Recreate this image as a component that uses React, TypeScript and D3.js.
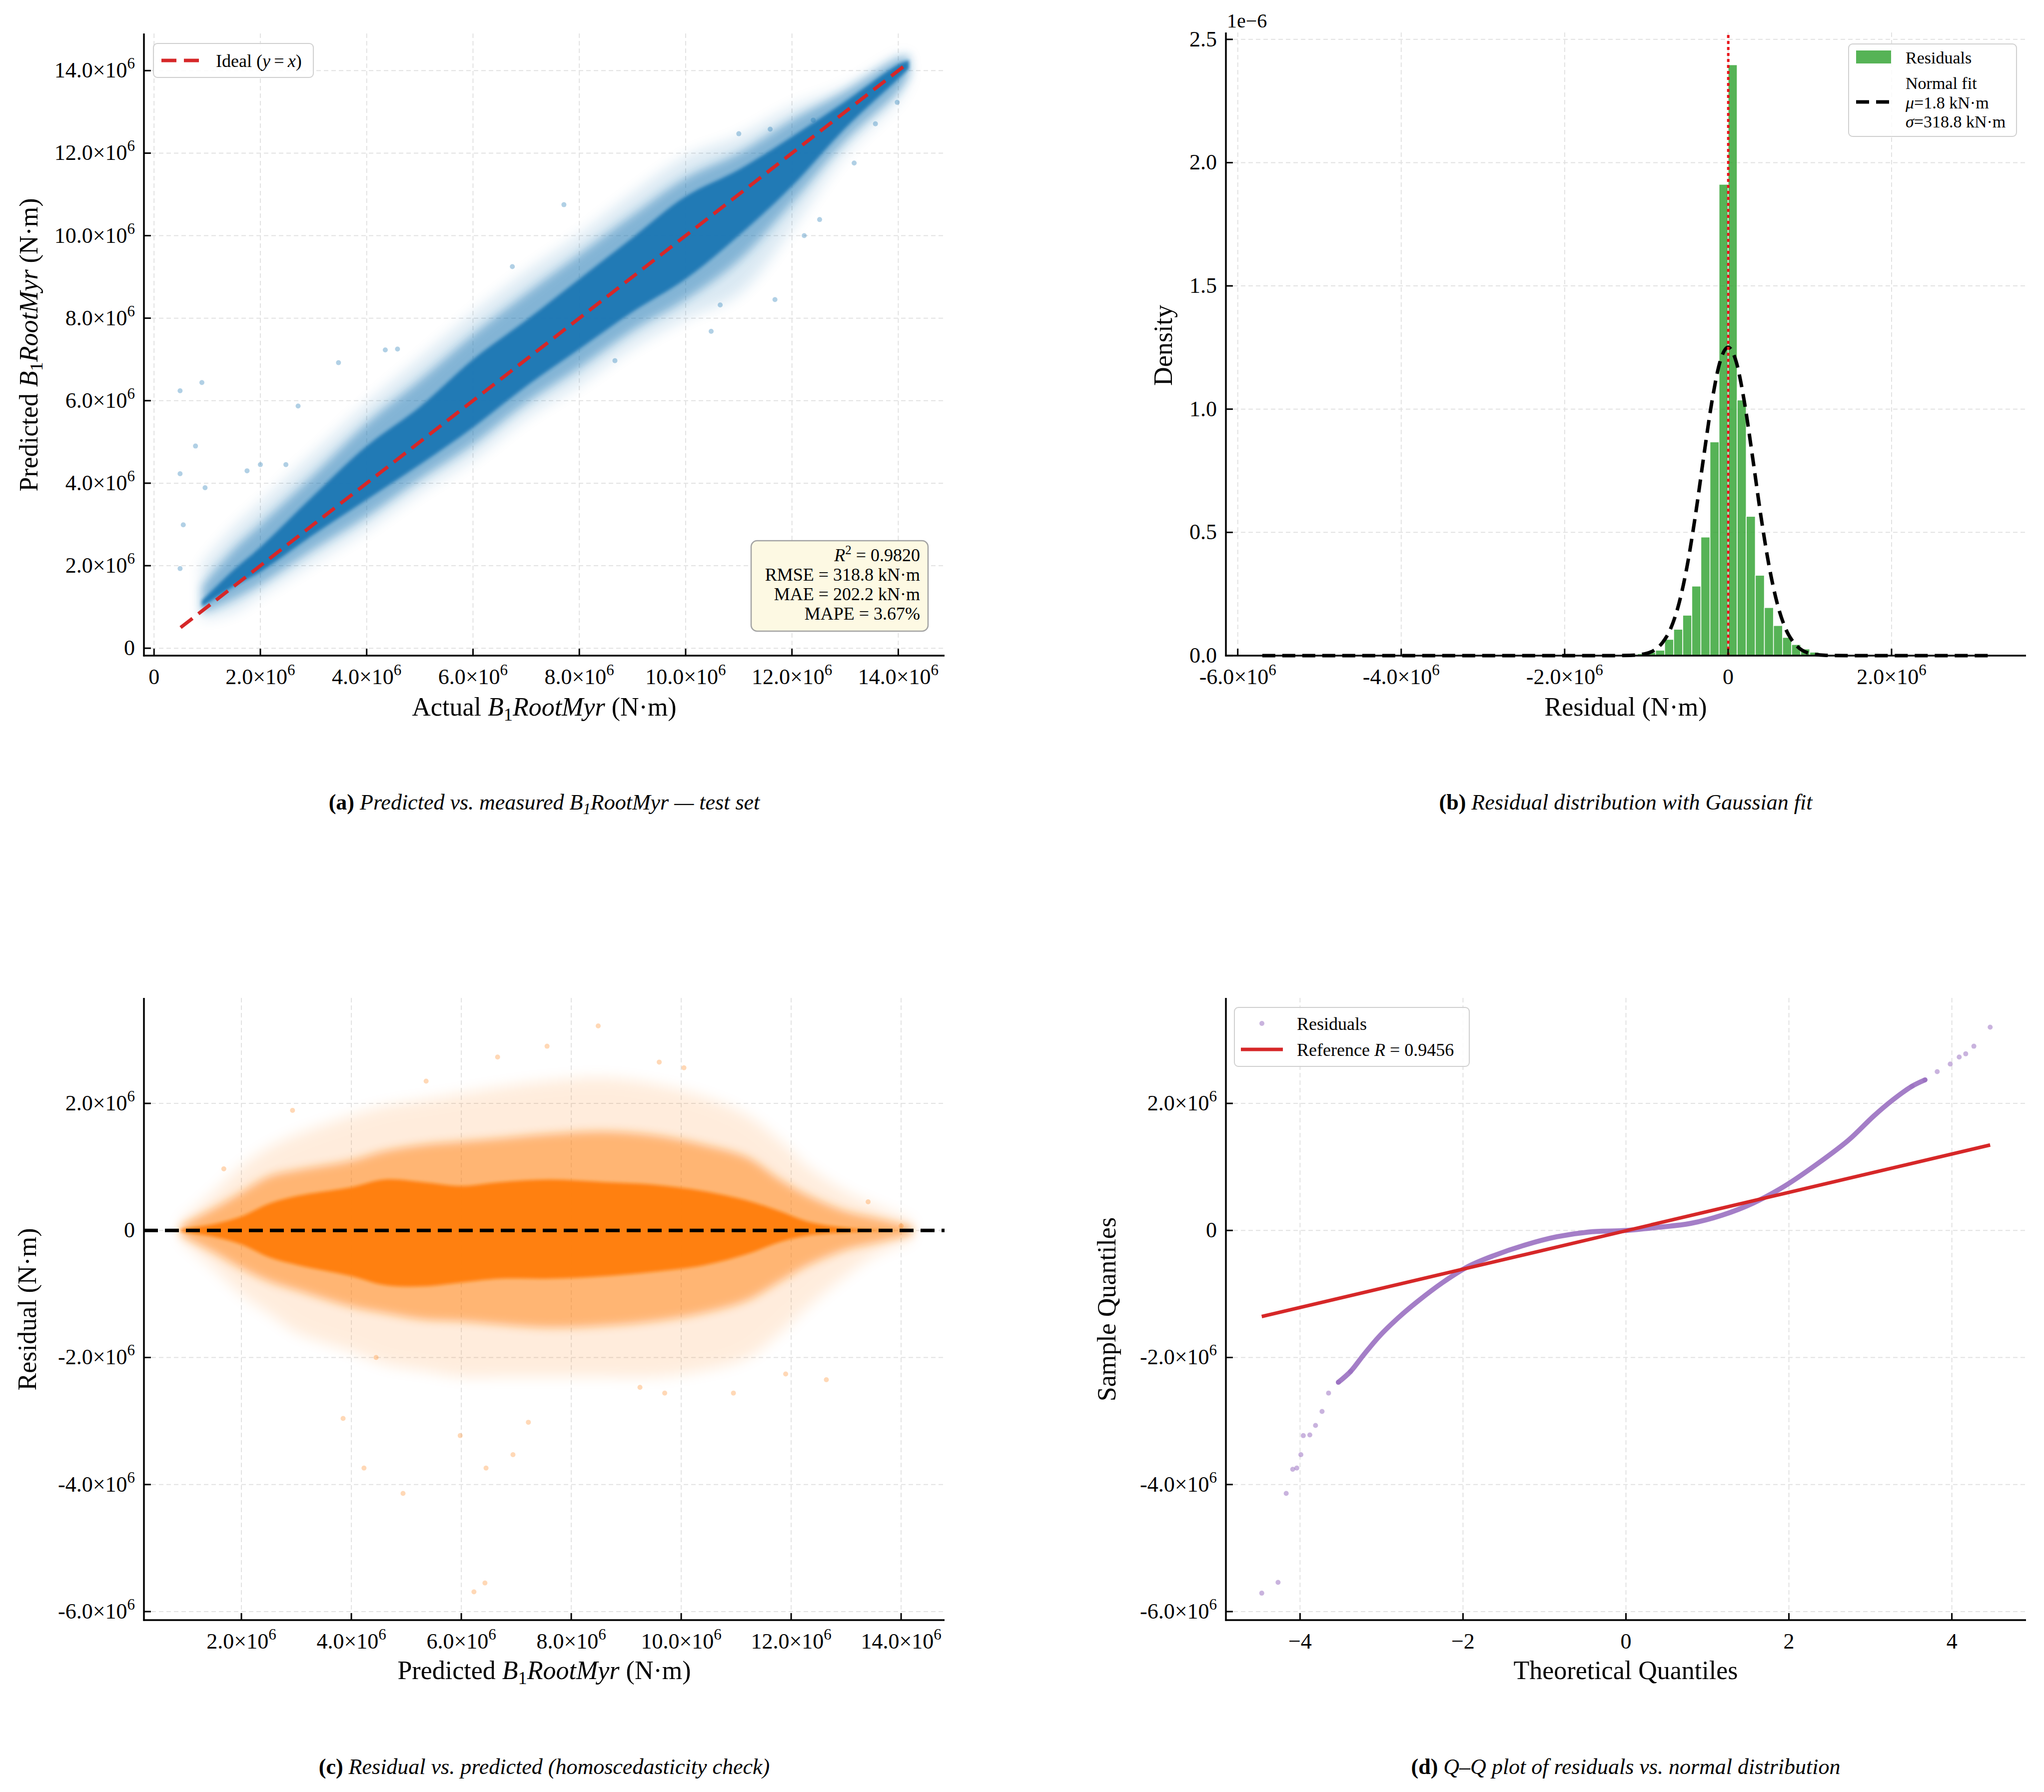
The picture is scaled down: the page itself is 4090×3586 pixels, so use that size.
import React from 'react';
import * as d3 from 'd3';

// ---------- data (values in 1e6 N·m unless noted) ----------
const actualMN = [0.9, 1.5, 2, 3, 4, 5, 6, 7, 8, 9, 10, 11, 12, 13, 14, 14.2];
const predCoreLo = [1.0, 1.5, 1.85, 2.75, 3.6, 4.45, 5.35, 6.35, 7.25, 8.15, 8.95, 10.0, 11.2, 12.6, 13.8, 14.05];
const predCoreHi = [1.15, 1.9, 2.45, 3.7, 4.9, 5.85, 7.0, 7.95, 8.95, 9.95, 10.95, 11.6, 12.4, 13.25, 14.15, 14.25];
const predMidLo = [0.85, 1.2, 1.55, 2.4, 3.2, 4.1, 4.95, 5.95, 6.8, 7.7, 8.45, 9.4, 10.8, 12.3, 13.5, 13.9];
const predMidHi = [1.5, 2.4, 3.0, 4.2, 5.45, 6.5, 7.6, 8.6, 9.55, 10.5, 11.4, 12.0, 12.8, 13.5, 14.3, 14.35];
const predOuterLo = [0.7, 0.9, 1.3, 2.1, 2.9, 3.8, 4.6, 5.6, 6.4, 7.3, 8.0, 8.6, 10.2, 12.0, 13.3, 13.8];
const predOuterHi = [2.0, 2.9, 3.5, 4.7, 5.9, 7.0, 8.1, 9.1, 10.0, 11.0, 11.9, 12.4, 13.1, 13.6, 14.35, 14.4];
const outlierActual = [0.49, 0.49, 0.55, 0.9, 0.78, 0.96, 0.49, 1.75, 2.0, 2.48, 2.71, 3.47, 4.35, 4.58, 6.74, 7.71, 8.67, 10.48, 10.65, 11.68, 11.59, 11.0, 12.4, 13.98, 13.57, 13.17, 12.52, 12.23];
const outlierPred = [6.24, 4.23, 2.99, 6.44, 4.9, 3.89, 1.93, 4.3, 4.45, 4.45, 5.87, 6.92, 7.23, 7.25, 9.25, 10.75, 6.97, 7.68, 8.32, 8.45, 12.58, 12.47, 12.8, 13.23, 12.71, 11.76, 10.39, 10.0];
const idealLine = [0.5, 14.2];
const statLines = ['= 0.9820', 'RMSE = 318.8 kN·m', 'MAE = 202.2 kN·m', 'MAPE = 3.67%'];

// panel (b): histogram (density in 1e-6) and normal fit
const histLeft = [-1.332, -1.221, -1.11, -0.999, -0.888, -0.777, -0.666, -0.555, -0.444, -0.333, -0.222, -0.111, 0, 0.111, 0.222, 0.333, 0.444, 0.555, 0.666, 0.777, 0.888, 0.999, 1.11, 1.221];
const histDensity = [0.003, 0.005, 0.008, 0.014, 0.022, 0.066, 0.107, 0.164, 0.282, 0.481, 0.867, 1.912, 2.397, 1.037, 0.565, 0.326, 0.195, 0.122, 0.074, 0.045, 0.027, 0.014, 0.007, 0.004];
const histWidth = 0.111;
const fitX = [-5.7, -2.0, -1.5, -1.2, -1.0, -0.9, -0.8, -0.7, -0.6, -0.5, -0.4, -0.3, -0.2, -0.1, 0, 0.1, 0.2, 0.3, 0.4, 0.5, 0.6, 0.7, 0.8, 0.9, 1.0, 1.2, 1.5, 2.0, 3.2];
const fitY = [0, 0, 0, 0.001, 0.009, 0.023, 0.054, 0.112, 0.213, 0.366, 0.569, 0.804, 1.027, 1.191, 1.251, 1.191, 1.027, 0.804, 0.569, 0.366, 0.213, 0.112, 0.054, 0.023, 0.009, 0.001, 0, 0, 0];
const residMean = 0.0018;

// panel (c): residual cloud envelopes vs predicted
const predMN = [0.9, 1.5, 2, 2.5, 3, 4, 4.6, 5.3, 6, 6.7, 7.6, 8.6, 9.5, 10.4, 11.2, 11.8, 12.3, 13, 13.5, 14.2];
const resCoreHi = [0.02, 0.1, 0.22, 0.42, 0.54, 0.68, 0.8, 0.76, 0.7, 0.76, 0.8, 0.76, 0.72, 0.62, 0.47, 0.3, 0.14, 0.04, 0.01, 0];
const resCoreLo = [-0.02, -0.1, -0.22, -0.42, -0.54, -0.72, -0.86, -0.88, -0.82, -0.76, -0.76, -0.72, -0.65, -0.55, -0.37, -0.18, -0.08, -0.03, -0.01, 0];
const resMidHi = [0.08, 0.35, 0.6, 0.85, 0.95, 1.1, 1.25, 1.35, 1.4, 1.45, 1.52, 1.56, 1.5, 1.35, 1.15, 0.8, 0.55, 0.3, 0.2, 0.06];
const resMidLo = [-0.08, -0.35, -0.6, -0.8, -0.94, -1.2, -1.3, -1.4, -1.43, -1.48, -1.53, -1.5, -1.43, -1.3, -1.1, -0.8, -0.55, -0.3, -0.2, -0.06];
const resOuterHi = [0.15, 0.6, 1.0, 1.3, 1.5, 1.8, 1.95, 2.05, 2.15, 2.25, 2.35, 2.4, 2.3, 2.1, 1.8, 1.4, 1.0, 0.6, 0.4, 0.15];
const resOuterLo = [-0.15, -0.6, -1.0, -1.3, -1.6, -1.9, -2.1, -2.2, -2.3, -2.3, -2.3, -2.3, -2.3, -2.2, -2.0, -1.6, -1.2, -0.7, -0.4, -0.15];
const resOutX = [8.49, 5.98, 4.94, 6.43, 6.23, 4.23, 3.85, 6.94, 7.22, 6.45, 7.56, 6.66, 9.6, 10.05, 2.93, 1.68, 5.36, 13.4, 14.0, 12.64, 11.9, 10.95, 9.7, 9.25, 4.45];
const resOutY = [3.22, -3.23, -4.14, -5.55, -5.69, -3.74, -2.96, -3.53, -3.02, -3.74, 2.9, 2.73, 2.65, 2.56, 1.89, 0.97, 2.35, 0.45, 0.07, -2.35, -2.26, -2.56, -2.56, -2.47, -2.0];

// panel (d): Q-Q points
const qqTheo = [-4.47, -4.27, -4.17, -4.09, -4.04, -3.99, -3.96, -3.88, -3.81, -3.73, -3.65, -3.53, -3.38, -3.22, -3.03, -2.79, -2.56, -2.25, -1.94, -1.63, -1.24, -0.85, -0.46, 0, 0.4, 0.79, 1.18, 1.56, 1.95, 2.34, 2.73, 3.04, 3.28, 3.51, 3.67, 3.82, 3.98, 4.09, 4.17, 4.27, 4.47];
const qqSample = [-5.71, -5.54, -4.14, -3.76, -3.74, -3.53, -3.23, -3.22, -3.07, -2.85, -2.56, -2.39, -2.22, -1.96, -1.67, -1.37, -1.12, -0.82, -0.57, -0.4, -0.23, -0.1, -0.025, 0, 0.05, 0.11, 0.24, 0.43, 0.7, 1.04, 1.42, 1.8, 2.06, 2.27, 2.37, 2.5, 2.62, 2.73, 2.78, 2.9, 3.2];
const refTheo = [-4.47, 4.47];
const refSample = [-1.355, 1.345];

const ticksA = [0, 2, 4, 6, 8, 10, 12, 14];
const ticksBx = [-6, -4, -2, 0, 2];
const ticksBy = [0, 0.5, 1.0, 1.5, 2.0, 2.5];
const ticksCx = [2, 4, 6, 8, 10, 12, 14];
const ticksCy = [-6, -4, -2, 0, 2];
const ticksDx = [-4, -2, 0, 2, 4];

// ---------- styling ----------
const FONT = '"Liberation Serif", "Times New Roman", serif';
const TICK_FS = 44;
const LABEL_FS = 52;
const LEG_FS = 36;
const CAP_FS = 44;
const BLUE = '#1f77b4';
const ORANGE = '#ff7f0e';
const GREEN = '#2ca02c';
const PURPLE = '#9467bd';
const RED = '#d62728';

type Scale = d3.ScaleLinear<number, number>;

const sci = (v: number) =>
  v === 0 ? (
    '0'
  ) : (
    <>
      {(v < 0 ? '-' : '') + Math.abs(v).toFixed(1)}×10
      <tspan dy={-18} fontSize={31}>6</tspan>
    </>
  );

function Grid({ x, y, xt, yt }: { x: Scale; y: Scale; xt: number[]; yt: number[] }) {
  const [l, r] = x.range();
  const [b, t] = y.range();
  return (
    <g stroke="#e2e2e2" strokeWidth={2} strokeDasharray="9,6">
      {xt.map((v) => (
        <line key={'x' + v} x1={x(v)} x2={x(v)} y1={t} y2={b} />
      ))}
      {yt.map((v) => (
        <line key={'y' + v} x1={l} x2={r} y1={y(v)} y2={y(v)} />
      ))}
    </g>
  );
}

function Frame({
  x, y, xt, yt, xf, yf,
}: {
  x: Scale; y: Scale; xt: number[]; yt: number[];
  xf: (v: number) => any; yf: (v: number) => any;
}) {
  const [l, r] = x.range();
  const [b, t] = y.range();
  return (
    <g>
      <line x1={l} x2={l} y1={t} y2={b + 1.5} stroke="#000" strokeWidth={3.5} />
      <line x1={l - 1.5} x2={r} y1={b} y2={b} stroke="#000" strokeWidth={3.5} />
      {xt.map((v) => (
        <g key={'xt' + v}>
          <line x1={x(v)} x2={x(v)} y1={b} y2={b - 14} stroke="#000" strokeWidth={3} />
          <text x={x(v)} y={b + 57} textAnchor="middle" fontSize={TICK_FS}>{xf(v)}</text>
        </g>
      ))}
      {yt.map((v) => (
        <g key={'yt' + v}>
          <line x1={l} x2={l + 14} y1={y(v)} y2={y(v)} stroke="#000" strokeWidth={3} />
          <text x={l - 18} y={y(v) + 14} textAnchor="end" fontSize={TICK_FS}>{yf(v)}</text>
        </g>
      ))}
    </g>
  );
}

const B1 = (fs: number) => (
  <>
    <tspan fontStyle="italic">B</tspan>
    <tspan fontSize={fs * 0.7} dy={fs * 0.2}>1</tspan>
    <tspan fontStyle="italic" dy={-fs * 0.2}>RootMyr</tspan>
  </>
);

export default function App() {
  // scales
  const xA = d3.scaleLinear().domain([-0.19, 14.87]).range([288, 1890]);
  const yA = d3.scaleLinear().domain([-0.18, 14.9]).range([1312, 67]);
  const xB = d3.scaleLinear().domain([-6.145, 3.645]).range([2453, 4054]);
  const yB = d3.scaleLinear().domain([0, 2.528]).range([1312, 65]);
  const xC = d3.scaleLinear().domain([0.227, 14.79]).range([288, 1890]);
  const yC = d3.scaleLinear().domain([-6.134, 3.66]).range([3242, 1997]);
  const xD = d3.scaleLinear().domain([-4.91, 4.91]).range([2453, 4054]);
  const yD = d3.scaleLinear().domain([-6.134, 3.66]).range([3242, 1997]);

  const bandA = (lo: number[], hi: number[]) =>
    d3.area<number>()
      .x((d) => xA(d))
      .y0((_, i) => yA(lo[i]))
      .y1((_, i) => yA(hi[i]))
      .curve(d3.curveCatmullRom)(actualMN) || '';
  const bandC = (lo: number[], hi: number[]) =>
    d3.area<number>()
      .x((d) => xC(d))
      .y0((_, i) => yC(lo[i]))
      .y1((_, i) => yC(hi[i]))
      .curve(d3.curveCatmullRom)(predMN) || '';

  const fitPath =
    d3.line<number>()
      .x((d) => xB(d))
      .y((_, i) => yB(fitY[i]))
      .curve(d3.curveMonotoneX)(fitX) || '';

  const qqIdx = qqTheo.map((_, i) => i);
  const denseIdx = qqIdx.filter((i) => qqTheo[i] >= -3.6 && qqTheo[i] <= 3.7);
  const tailIdx = qqIdx.filter((i) => qqTheo[i] < -3.3 || qqTheo[i] > 3.5);
  const qqPath =
    d3.line<number>()
      .x((i) => xD(qqTheo[i]))
      .y((i) => yD(qqSample[i]))
      .curve(d3.curveCatmullRom)(denseIdx) || '';

  const ySci = (v: number) => sci(v);
  const bB = yB(0);

  return (
    <svg
      width={4090}
      height={3586}
      style={{ position: 'absolute', left: 0, top: 0, background: '#fff' }}
      fontFamily={FONT}
    >
      <defs>
        <filter id="blurOuter" x="-10%" y="-10%" width="120%" height="120%">
          <feGaussianBlur stdDeviation={14} />
        </filter>
        <filter id="blurMid" x="-10%" y="-10%" width="120%" height="120%">
          <feGaussianBlur stdDeviation={9} />
        </filter>
        <filter id="blurCore" x="-10%" y="-10%" width="120%" height="120%">
          <feGaussianBlur stdDeviation={3} />
        </filter>
      </defs>
      <rect width={4090} height={3586} fill="#fff" />

      {/* ---------------- (a) ---------------- */}
      <Grid x={xA} y={yA} xt={ticksA} yt={ticksA} />
      <path d={bandA(predOuterLo, predOuterHi)} fill={BLUE} opacity={0.16} filter="url(#blurOuter)" />
      <path d={bandA(predMidLo, predMidHi)} fill={BLUE} opacity={0.45} filter="url(#blurMid)" />
      <path d={bandA(predCoreLo, predCoreHi)} fill={BLUE} opacity={0.95} filter="url(#blurCore)" />
      {outlierActual.map((v, i) => (
        <circle key={'oa' + i} cx={xA(v)} cy={yA(outlierPred[i])} r={5} fill={BLUE} opacity={0.35} />
      ))}
      <line
        x1={xA(idealLine[0])} y1={yA(idealLine[0])} x2={xA(idealLine[1])} y2={yA(idealLine[1])}
        stroke={RED} strokeWidth={7} strokeDasharray="30,15"
      />
      <Frame x={xA} y={yA} xt={ticksA} yt={ticksA} xf={sci} yf={ySci} />
      <text x={1089} y={1432} textAnchor="middle" fontSize={LABEL_FS}>
        Actual {B1(LABEL_FS)} (N·m)
      </text>
      <text transform="translate(75,690) rotate(-90)" textAnchor="middle" fontSize={LABEL_FS}>
        Predicted {B1(LABEL_FS)} (N·m)
      </text>
      {/* legend */}
      <rect x={307} y={87} width={320} height={68} rx={8} fill="#fff" fillOpacity={0.85} stroke="#d0d0d0" strokeWidth={2} />
      <line x1={323} x2={398} y1={121} y2={121} stroke={RED} strokeWidth={7} strokeDasharray="30,15" />
      <text x={432} y={134} fontSize={LEG_FS}>
        Ideal (<tspan fontStyle="italic">y</tspan>{'\u2009=\u2009'}<tspan fontStyle="italic">x</tspan>)
      </text>
      {/* stats box */}
      <rect x={1503} y={1082} width={354} height={181} rx={12} fill="#fdf9e3" stroke="#a3a3a3" strokeWidth={2.5} />
      <g fontSize={LEG_FS} textAnchor="end">
        <text x={1841} y={1123}>
          <tspan fontStyle="italic">R</tspan>
          <tspan dy={-14} fontSize={25}>2</tspan>
          <tspan dy={14}> {statLines[0]}</tspan>
        </text>
        {statLines.slice(1).map((s, i) => (
          <text key={s} x={1841} y={1162 + i * 39}>{s}</text>
        ))}
      </g>
      <text x={1089} y={1620} textAnchor="middle" fontSize={CAP_FS}>
        <tspan fontWeight="bold">(a)</tspan>
        <tspan fontStyle="italic"> Predicted vs. measured B</tspan>
        <tspan fontStyle="italic" fontSize={CAP_FS * 0.7} dy={9}>1</tspan>
        <tspan fontStyle="italic" dy={-9}>RootMyr — test set</tspan>
      </text>

      {/* ---------------- (b) ---------------- */}
      <Grid x={xB} y={yB} xt={ticksBx} yt={ticksBy} />
      {histLeft.map((v, i) => (
        <rect
          key={'h' + i}
          x={xB(v)}
          y={yB(histDensity[i])}
          width={xB(v + histWidth) - xB(v)}
          height={bB - yB(histDensity[i])}
          fill={GREEN}
          fillOpacity={0.8}
          stroke="#fff"
          strokeWidth={1.5}
        />
      ))}
      <path d={fitPath} fill="none" stroke="#000" strokeWidth={7} strokeDasharray="26,14" />
      <line x1={xB(residMean)} x2={xB(residMean)} y1={bB} y2={65} stroke="#e8141b" strokeWidth={5} strokeDasharray="6,6" />
      <Frame x={xB} y={yB} xt={ticksBx} yt={ticksBy} xf={sci} yf={(v) => v.toFixed(1)} />
      <text x={2455} y={55} fontSize={40}>1e−6</text>
      <text x={3253} y={1432} textAnchor="middle" fontSize={LABEL_FS}>Residual (N·m)</text>
      <text transform="translate(2345,691) rotate(-90)" textAnchor="middle" fontSize={LABEL_FS}>Density</text>
      <rect x={3699} y={88} width={336} height={185} rx={8} fill="#fff" fillOpacity={0.85} stroke="#d0d0d0" strokeWidth={2} />
      <rect x={3714} y={101} width={70} height={26} fill={GREEN} fillOpacity={0.8} />
      <line x1={3714} x2={3784} y1={204} y2={204} stroke="#000" strokeWidth={7} strokeDasharray="26,14" />
      <g fontSize={LEG_FS - 2}>
        <text x={3813} y={127}>Residuals</text>
        <text x={3813} y={178}>Normal fit</text>
        <text x={3813} y={217}><tspan fontStyle="italic">μ</tspan>=1.8 kN·m</text>
        <text x={3813} y={255}><tspan fontStyle="italic">σ</tspan>=318.8 kN·m</text>
      </g>
      <text x={3253} y={1620} textAnchor="middle" fontSize={CAP_FS}>
        <tspan fontWeight="bold">(b)</tspan>
        <tspan fontStyle="italic"> Residual distribution with Gaussian fit</tspan>
      </text>

      {/* ---------------- (c) ---------------- */}
      <Grid x={xC} y={yC} xt={ticksCx} yt={ticksCy} />
      <path d={bandC(resOuterLo, resOuterHi)} fill={ORANGE} opacity={0.14} filter="url(#blurOuter)" />
      <path d={bandC(resMidLo, resMidHi)} fill={ORANGE} opacity={0.5} filter="url(#blurMid)" />
      <path d={bandC(resCoreLo, resCoreHi)} fill={ORANGE} opacity={0.97} filter="url(#blurCore)" />
      {resOutX.map((v, i) => (
        <circle key={'oc' + i} cx={xC(v)} cy={yC(resOutY[i])} r={5} fill={ORANGE} opacity={0.3} />
      ))}
      <line x1={288} x2={1890} y1={yC(0)} y2={yC(0)} stroke="#000" strokeWidth={7} strokeDasharray="28,14" />
      <Frame x={xC} y={yC} xt={ticksCx} yt={ticksCy} xf={sci} yf={ySci} />
      <text x={1089} y={3360} textAnchor="middle" fontSize={LABEL_FS}>
        Predicted {B1(LABEL_FS)} (N·m)
      </text>
      <text transform="translate(72,2620) rotate(-90)" textAnchor="middle" fontSize={LABEL_FS}>Residual (N·m)</text>
      <text x={1089} y={3550} textAnchor="middle" fontSize={CAP_FS}>
        <tspan fontWeight="bold">(c)</tspan>
        <tspan fontStyle="italic"> Residual vs. predicted (homoscedasticity check)</tspan>
      </text>

      {/* ---------------- (d) ---------------- */}
      <Grid x={xD} y={yD} xt={ticksDx} yt={ticksCy} />
      <path d={qqPath} fill="none" stroke={PURPLE} strokeWidth={10} strokeOpacity={0.85} strokeLinecap="round" />
      {tailIdx.map((i) => (
        <circle key={'q' + i} cx={xD(qqTheo[i])} cy={yD(qqSample[i])} r={5} fill={PURPLE} opacity={0.5} />
      ))}
      <line
        x1={xD(refTheo[0])} y1={yD(refSample[0])} x2={xD(refTheo[1])} y2={yD(refSample[1])}
        stroke={RED} strokeWidth={7}
      />
      <Frame
        x={xD} y={yD} xt={ticksDx} yt={ticksCy}
        xf={(v) => (v < 0 ? '\u2212' + Math.abs(v) : String(v))}
        yf={ySci}
      />
      <text x={3253} y={3360} textAnchor="middle" fontSize={LABEL_FS}>Theoretical Quantiles</text>
      <text transform="translate(2232,2620) rotate(-90)" textAnchor="middle" fontSize={LABEL_FS}>Sample Quantiles</text>
      <rect x={2470} y={2016} width={470} height={118} rx={8} fill="#fff" fillOpacity={0.85} stroke="#d0d0d0" strokeWidth={2} />
      <circle cx={2525} cy={2048} r={5} fill={PURPLE} opacity={0.5} />
      <line x1={2483} x2={2567} y1={2100} y2={2100} stroke={RED} strokeWidth={7} />
      <g fontSize={LEG_FS}>
        <text x={2595} y={2061}>Residuals</text>
        <text x={2595} y={2113}>
          Reference <tspan fontStyle="italic">R</tspan> = 0.9456
        </text>
      </g>
      <text x={3253} y={3550} textAnchor="middle" fontSize={CAP_FS}>
        <tspan fontWeight="bold">(d)</tspan>
        <tspan fontStyle="italic"> Q–Q plot of residuals vs. normal distribution</tspan>
      </text>
    </svg>
  );
}
